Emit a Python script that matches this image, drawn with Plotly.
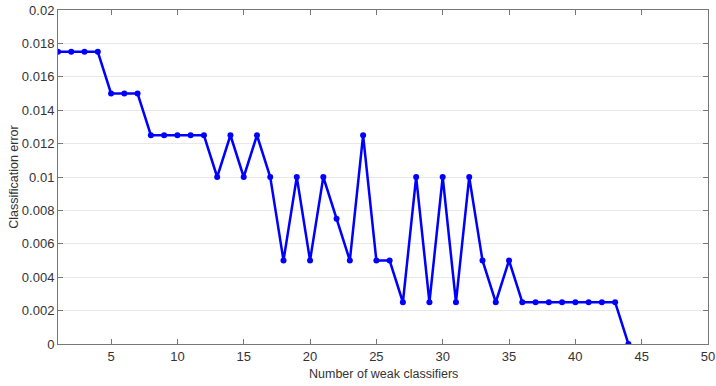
import plotly.graph_objects as go

n_classifiers = list(range(1, 45))
error = [0.0175, 0.0175, 0.0175, 0.0175,
         0.015, 0.015, 0.015,
         0.0125, 0.0125, 0.0125, 0.0125, 0.0125,
         0.01, 0.0125, 0.01, 0.0125, 0.01,
         0.005, 0.01, 0.005, 0.01, 0.0075, 0.005, 0.0125,
         0.005, 0.005, 0.0025, 0.01, 0.0025, 0.01, 0.0025, 0.01,
         0.005, 0.0025, 0.005,
         0.0025, 0.0025, 0.0025, 0.0025, 0.0025, 0.0025, 0.0025, 0.0025,
         0.0]

x_ticks = [5, 10, 15, 20, 25, 30, 35, 40, 45, 50]
y_ticks = [0, 0.002, 0.004, 0.006, 0.008, 0.01, 0.012, 0.014, 0.016, 0.018, 0.02]
y_tick_text = ["0", "0.002", "0.004", "0.006", "0.008", "0.01", "0.012", "0.014", "0.016", "0.018", "0.02"]
x_title = "Number of weak classifiers"
y_title = "Classification error"

FONT = "Liberation Sans, Arial, sans-serif"
TEXT_COLOR = "#333333"

fig = go.Figure()
fig.add_trace(go.Scatter(
    x=n_classifiers, y=error, mode="lines+markers",
    line=dict(color="#0000ff", width=2.5),
    marker=dict(color="#0000ff", size=6),
    showlegend=False,
))

axis_common = dict(
    showline=True, linecolor="#777777", linewidth=1, mirror="ticks",
    ticks="inside", ticklen=5, tickcolor="#777777", tickwidth=1,
    zeroline=False, automargin=False,
    tickfont=dict(family=FONT, size=13, color=TEXT_COLOR),
)

fig.update_xaxes(range=[1, 50], tickvals=x_ticks, showgrid=False, **axis_common)
fig.update_yaxes(
    range=[0, 0.02], tickvals=y_ticks, ticktext=y_tick_text,
    showgrid=True, gridcolor="#e8e8e8", gridwidth=1,
    **axis_common,
)

fig.add_annotation(
    text=x_title, xref="paper", yref="paper", x=0.5, y=-0.09,
    xanchor="center", yanchor="middle", showarrow=False,
    font=dict(family=FONT, size=12.5, color=TEXT_COLOR),
)
fig.add_annotation(
    text=y_title, xref="paper", yref="paper", x=-0.068, y=0.5,
    xanchor="center", yanchor="middle", textangle=-90, showarrow=False,
    font=dict(family=FONT, size=12.5, color=TEXT_COLOR),
)

fig.update_layout(
    width=716, height=386,
    margin=dict(l=58, r=8, t=10, b=42),
    plot_bgcolor="white", paper_bgcolor="white",
)

fig.write_html("out.html", config={"displayModeBar": False},
               post_script="document.body.style.margin='0';")
